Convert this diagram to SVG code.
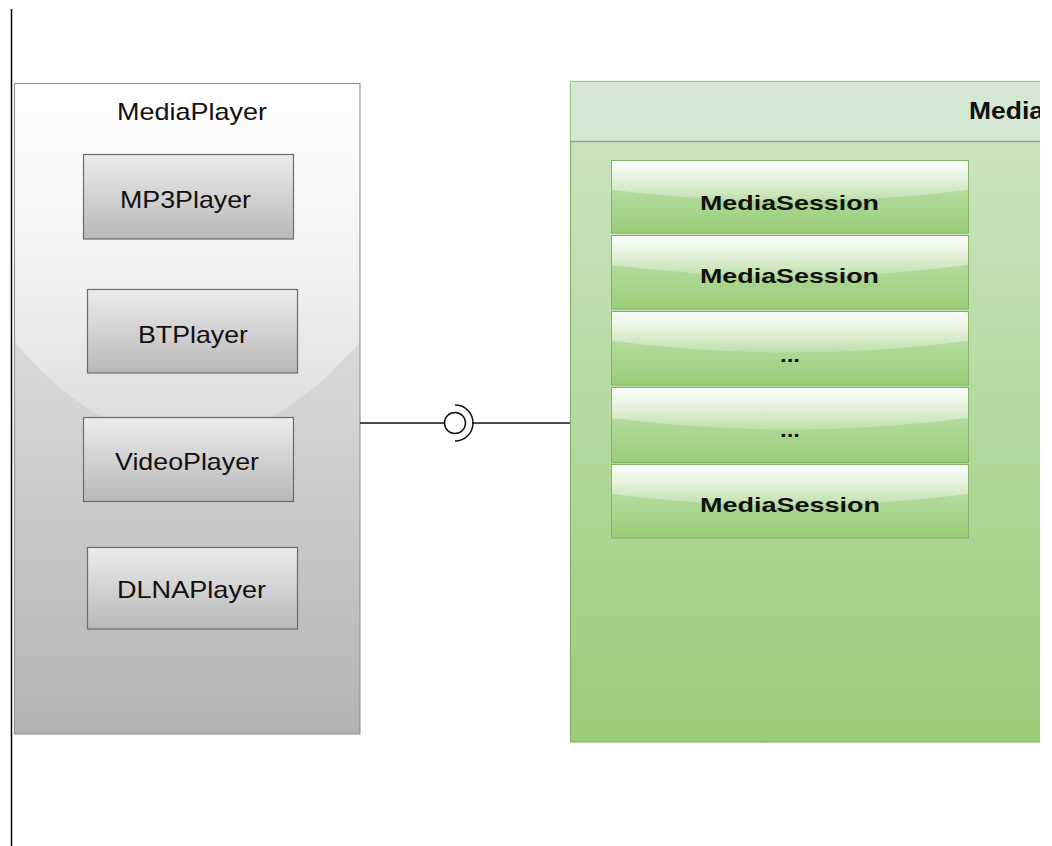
<svg xmlns="http://www.w3.org/2000/svg" width="1052" height="846" viewBox="0 0 1052 846">
  <defs>
    <linearGradient id="grayFill" x1="0" y1="0" x2="0" y2="1">
      <stop offset="0" stop-color="#f5f5f5"/>
      <stop offset="1" stop-color="#b3b3b3"/>
    </linearGradient>
    <linearGradient id="grayBox" x1="0" y1="0" x2="0" y2="1">
      <stop offset="0" stop-color="#ececec"/>
      <stop offset="1" stop-color="#b8b8b8"/>
    </linearGradient>
    <linearGradient id="greenBody" x1="0" y1="0" x2="0" y2="1">
      <stop offset="0" stop-color="#d0e6c7"/>
      <stop offset="1" stop-color="#9bcc78"/>
    </linearGradient>
    <linearGradient id="greenBox" x1="0" y1="0" x2="0" y2="1">
      <stop offset="0" stop-color="#c8e4b8"/>
      <stop offset="1" stop-color="#98cd77"/>
    </linearGradient>
    <!-- glass highlight: white fading downwards -->
    <linearGradient id="glass" x1="0" y1="0" x2="0" y2="1">
      <stop offset="0" stop-color="#ffffff" stop-opacity="0.92"/>
      <stop offset="1" stop-color="#ffffff" stop-opacity="0.2"/>
    </linearGradient>
    <clipPath id="viewClip">
      <rect x="0" y="0" width="1040" height="846"/>
    </clipPath>
  </defs>
  <style>
    .player { fill: url(#grayBox); stroke: #6b6b6b; stroke-width: 1.2; }
    .session { fill: url(#greenBox); stroke: #82b366; stroke-width: 1; }
    .glass { fill: url(#glass); stroke: none; }
    .lbl { font-family: "Liberation Sans", Arial, sans-serif; fill: #111; }
    .reg { font-size: 24px; }
    .bold { font-size: 21px; font-weight: bold; }
    .wire { stroke: #111; stroke-width: 1.5; fill: none; }
  </style>

  <rect x="0" y="0" width="1052" height="846" fill="#ffffff"/>

  <!-- left boundary line -->
  <line x1="11.5" y1="9" x2="11.5" y2="846" stroke="#000" stroke-width="1.5"/>

  <!-- MediaPlayer container -->
  <g id="mediaPlayer">
    <rect x="14.5" y="83.5" width="345.5" height="650.5" fill="url(#grayFill)" stroke="#8a8a8a" stroke-width="1"/>
    <path class="glass" d="M15,84 L15,343 Q187,539 359,343 L359,84 Z"/>
    <text class="lbl reg" x="117" y="120" font-size="23" textLength="150" lengthAdjust="spacingAndGlyphs">MediaPlayer</text>
  </g>

  <g id="mp3Player">
    <rect class="player" x="83.5" y="154.5" width="210" height="84.5"/>
    <text class="lbl reg" x="120" y="208" textLength="131" lengthAdjust="spacingAndGlyphs">MP3Player</text>
  </g>

  <g id="btPlayer">
    <rect class="player" x="87.5" y="289.5" width="210" height="83.5"/>
    <text class="lbl reg" x="138" y="343" textLength="110" lengthAdjust="spacingAndGlyphs">BTPlayer</text>
  </g>

  <g id="videoPlayer">
    <rect class="player" x="83.5" y="417.5" width="210" height="84"/>
    <text class="lbl reg" x="115" y="470" textLength="144" lengthAdjust="spacingAndGlyphs">VideoPlayer</text>
  </g>

  <g id="dlnaPlayer">
    <rect class="player" x="87.5" y="547.5" width="210" height="81.5"/>
    <text class="lbl reg" x="117" y="598" textLength="149" lengthAdjust="spacingAndGlyphs">DLNAPlayer</text>
  </g>

  <!-- connector with provided/required interface symbol -->
  <g id="connectors">
    <line class="wire" x1="360" y1="423" x2="444" y2="423"/>
    <line class="wire" x1="472" y1="423" x2="570" y2="423"/>
    <circle class="wire" cx="455" cy="423" r="10.5" fill="#ffffff"/>
    <path class="wire" d="M455,405 A18,18 0 0 1 455,441"/>
  </g>

  <!-- Media container (green swimlane) -->
  <g id="mediaContainer" clip-path="url(#viewClip)">
    <rect x="570.5" y="81.5" width="500" height="660.5" fill="url(#greenBody)" stroke="#82b366" stroke-width="1.2"/>
    <rect x="570.5" y="81.5" width="500" height="60" fill="#d5e8d4" stroke="#9fc58a" stroke-width="1"/>
    <line x1="570" y1="141.5" x2="1070" y2="141.5" stroke="#8fa88a" stroke-width="1.4"/>
    <text class="lbl" x="969" y="119" font-size="23" font-weight="bold" textLength="75" lengthAdjust="spacingAndGlyphs">Media</text>
  </g>

  <g id="session1">
    <rect class="session" x="611.5" y="160.5" width="357" height="72.5"/>
    <path class="glass" d="M612,161 L612,190 Q790,212 968,190 L968,161 Z"/>
    <text class="lbl bold" x="700" y="210" textLength="179" lengthAdjust="spacingAndGlyphs">MediaSession</text>
  </g>

  <g id="session2">
    <rect class="session" x="611.5" y="235.5" width="357" height="73.5"/>
    <path class="glass" d="M612,236 L612,265 Q790,288 968,265 L968,236 Z"/>
    <text class="lbl bold" x="700" y="283" textLength="179" lengthAdjust="spacingAndGlyphs">MediaSession</text>
  </g>

  <g id="session3">
    <rect class="session" x="611.5" y="311.5" width="357" height="73.5"/>
    <path class="glass" d="M612,312 L612,341 Q790,364 968,341 L968,312 Z"/>
    <text class="lbl bold" x="780" y="362" textLength="20" lengthAdjust="spacingAndGlyphs">...</text>
  </g>

  <g id="session4">
    <rect class="session" x="611.5" y="387.5" width="357" height="75"/>
    <path class="glass" d="M612,388 L612,418 Q790,441 968,418 L968,388 Z"/>
    <text class="lbl bold" x="780" y="437" textLength="20" lengthAdjust="spacingAndGlyphs">...</text>
  </g>

  <g id="session5">
    <rect class="session" x="611.5" y="464.5" width="357" height="73.5"/>
    <path class="glass" d="M612,465 L612,494 Q790,517 968,494 L968,465 Z"/>
    <text class="lbl bold" x="700" y="512" textLength="180" lengthAdjust="spacingAndGlyphs">MediaSession</text>
  </g>
</svg>
